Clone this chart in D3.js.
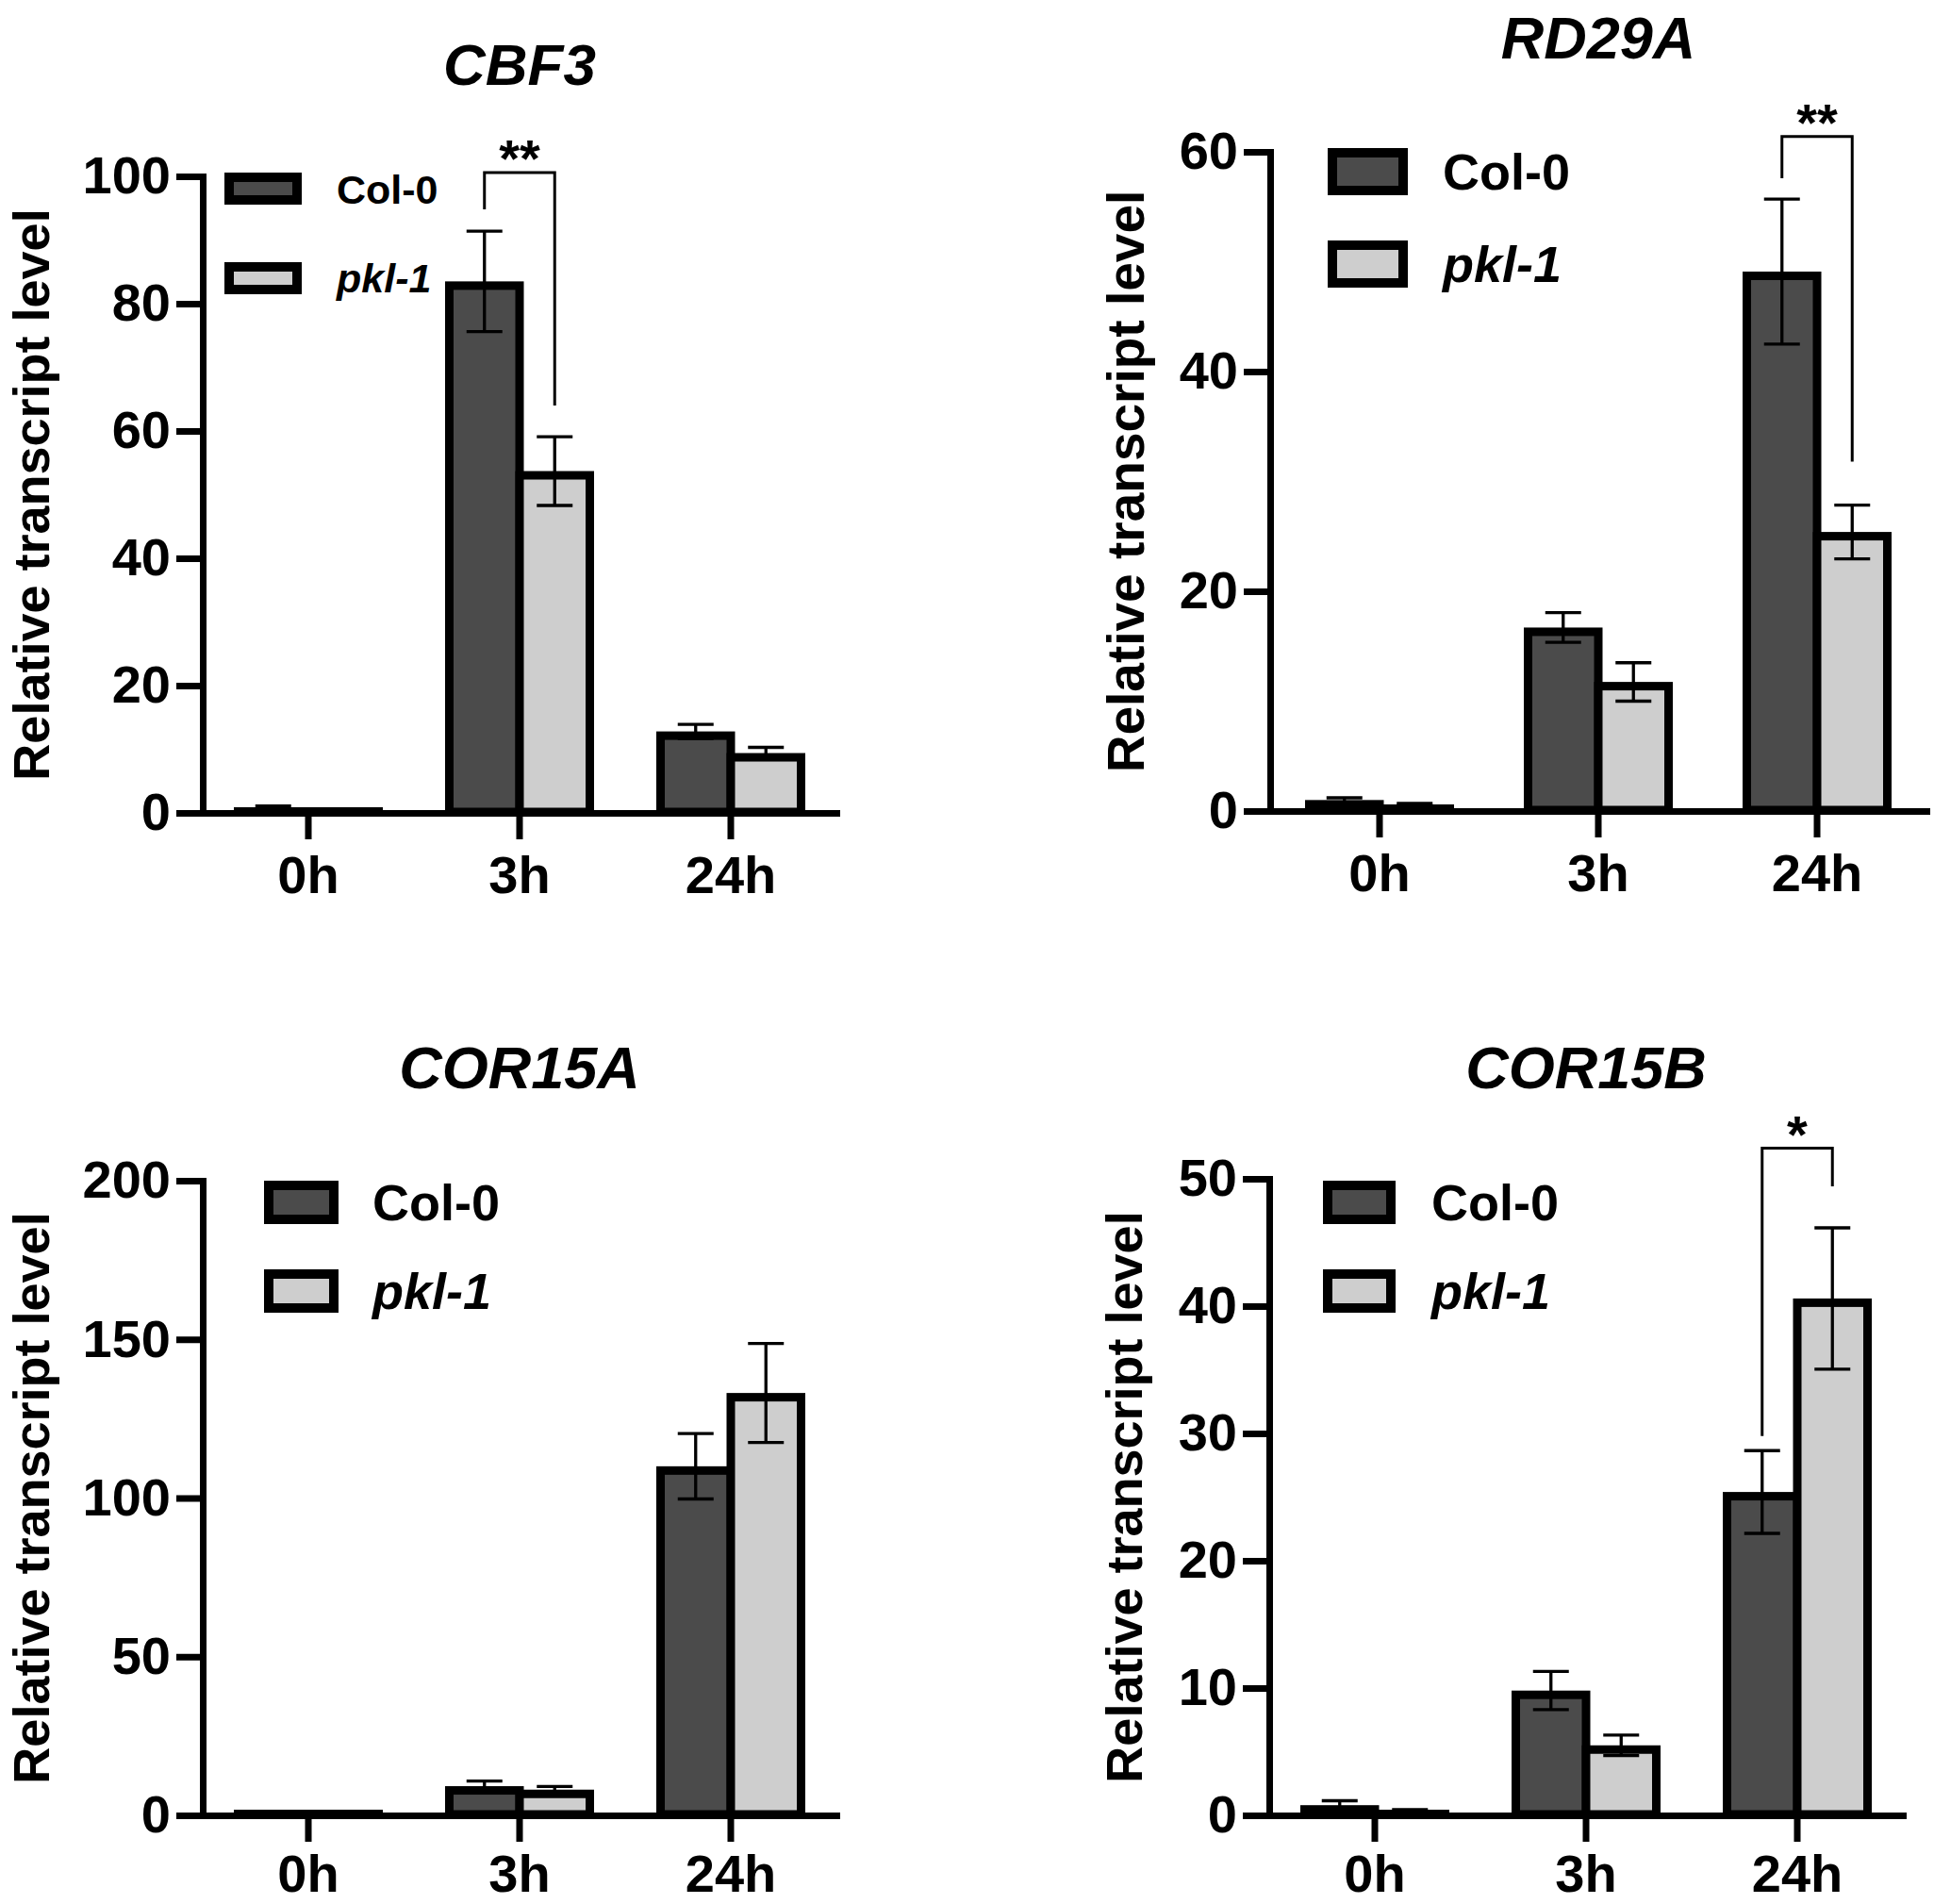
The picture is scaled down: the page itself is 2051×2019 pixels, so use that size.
<!DOCTYPE html>
<html><head><meta charset="utf-8">
<script src="https://cdn.jsdelivr.net/npm/d3@7"></script>
<style>body{margin:0;background:#fff} svg{display:block}</style>
</head><body>
<svg id="chart" width="2051" height="2019"></svg>
<script>
// ---------- DATA ----------
const categories = ["0h", "3h", "24h"];
const seriesNames = ["Col-0", "pkl-1"];
const genes = ["CBF3", "RD29A", "COR15A", "COR15B"];
const yAxisTitle = "Relative transcript level";

const cbf3Col = [0.85, 83.5, 12.8];
const cbf3ColErr = [0.25, 7.9, 1.1];
const cbf3Pkl = [0.5, 53.7, 9.4];
const cbf3PklErr = [0.15, 5.4, 0.9];

const rd29aCol = [1.0, 16.7, 49.1];
const rd29aColErr = [0.2, 1.35, 6.6];
const rd29aPkl = [0.6, 11.75, 25.4];
const rd29aPklErr = [0.1, 1.75, 2.45];

const cor15aCol = [1.0, 9.2, 110.0];
const cor15aColErr = [0.3, 1.6, 10.3];
const cor15aPkl = [0.5, 8.1, 133.1];
const cor15aPklErr = [0.1, 1.0, 15.6];

const cor15bCol = [0.8, 9.8, 25.4];
const cor15bColErr = [0.35, 1.5, 3.25];
const cor15bPkl = [0.35, 5.5, 40.6];
const cor15bPklErr = [0.1, 0.8, 5.55];

const yMax = [100, 60, 200, 50];
const yTickStep = [20, 20, 50, 10];

// significance brackets
const sigCategory = ["3h", "24h", null, "24h"];
const sigLabel = ["**", "**", null, "*"];
const sigTop = [100.6, 61.4, null, 52.4];
const sigLeftEnd = [94.8, 57.6, null, 29.8];
const sigRightEnd = [64.0, 31.8, null, 49.4];

const colValues = [cbf3Col, rd29aCol, cor15aCol, cor15bCol];
const colErrors = [cbf3ColErr, rd29aColErr, cor15aColErr, cor15bColErr];
const pklValues = [cbf3Pkl, rd29aPkl, cor15aPkl, cor15bPkl];
const pklErrors = [cbf3PklErr, rd29aPklErr, cor15aPklErr, cor15bPklErr];

// ---------- LAYOUT / STYLE ----------
const FONT = "'Liberation Sans', Arial, Helvetica, sans-serif";
const fills = ["#4b4b4b", "#cecece"];
const layout = [
  {axisX:215, band:224, top:187, base:862, xLabelY:85, titleX:551, titleY:90, titleSize:62, labelX:52, labelSize:54,
   leg:{boxX:238, boxW:82, boxH:34, rowTop:[183,278], textX:357, textBase:[216,310], size:43}},
  {axisX:1347, band:232, top:161, base:860, xLabelY:85, titleX:1695, titleY:62, titleSize:63, labelX:1213, labelSize:55,
   leg:{boxX:1408, boxW:85, boxH:50, rowTop:[157,255], textX:1530, textBase:[201,299], size:54}},
  {axisX:215, band:224, top:1252, base:1925, xLabelY:81, titleX:551, titleY:1154, titleSize:63, labelX:52, labelSize:54,
   leg:{boxX:280, boxW:79, boxH:46, rowTop:[1252,1346], textX:395, textBase:[1294,1388], size:54}},
  {axisX:1346, band:224, top:1250, base:1925, xLabelY:81, titleX:1682, titleY:1154, titleSize:63, labelX:1211, labelSize:54,
   leg:{boxX:1403, boxW:77, boxH:46, rowTop:[1252,1346], textX:1518, textBase:[1294,1388], size:54}}
];
const BAR_HALF = 79, BAR_SW = 9, AXIS_SW = 7, ERR_SW = 3.3, CAP_W = 38, TICK = 28, TICK_FONT = 56;

const svg = d3.select("#chart");
svg.append("rect").attr("width", 2051).attr("height", 2019).attr("fill", "#fff");

genes.forEach((gene, i) => {
  const L = layout[i];
  const g = svg.append("g");
  const x = d3.scaleBand().domain(categories).range([L.axisX, L.axisX + 3 * L.band]).padding(0);
  const y = d3.scaleLinear().domain([0, yMax[i]]).range([L.base, L.top]);
  const xs = d3.scaleBand().domain(seriesNames).range([-BAR_HALF, BAR_HALF]);

  const vals = [colValues[i], pklValues[i]];
  const errs = [colErrors[i], pklErrors[i]];

  const barRect = (s, c) => {
    const left = s === 0 ? c + xs(seriesNames[0]) + BAR_SW / 2 : c + xs(seriesNames[1]);
    const w = xs.bandwidth() - BAR_SW / 2;
    return {left, w, mid: left + w / 2};
  };

  // bars
  seriesNames.forEach((sn, s) => {
    categories.forEach((cat, k) => {
      const c = x(cat) + x.bandwidth() / 2;
      const r = barRect(s, c);
      const v = vals[s][k];
      const yt = y(v) + BAR_SW / 2;
      const h = Math.max(0.5, y(0) - 1 - yt);
      g.append("rect").attr("x", r.left).attr("y", Math.min(yt, y(0) - 1.5)).attr("width", r.w).attr("height", h)
        .attr("fill", fills[s]).attr("stroke", "#000").attr("stroke-width", BAR_SW);
    });
  });

  // error bars
  seriesNames.forEach((sn, s) => {
    categories.forEach((cat, k) => {
      const c = x(cat) + x.bandwidth() / 2;
      const m = barRect(s, c).mid;
      const v = vals[s][k], e = errs[s][k];
      const y1 = y(v + e), y2 = y(Math.max(0, v - e));
      const eg = g.append("g").attr("stroke", "#000").attr("stroke-width", ERR_SW).attr("fill", "none");
      eg.append("line").attr("x1", m).attr("x2", m).attr("y1", y1).attr("y2", y2);
      eg.append("line").attr("x1", m - CAP_W / 2).attr("x2", m + CAP_W / 2).attr("y1", y1).attr("y2", y1);
      eg.append("line").attr("x1", m - CAP_W / 2).attr("x2", m + CAP_W / 2).attr("y1", y2).attr("y2", y2);
    });
  });

  // axes
  const yAxis = d3.axisLeft(y).tickValues(d3.range(0, yMax[i] + yTickStep[i] / 2, yTickStep[i]))
    .tickSize(TICK).tickPadding(6).tickSizeOuter(0).tickFormat(d3.format("d"));
  const ya = g.append("g").attr("transform", `translate(${L.axisX},0)`).call(yAxis);
  const xAxis = d3.axisBottom(x).tickSize(TICK).tickSizeOuter(0);
  const xa = g.append("g").attr("transform", `translate(0,${L.base})`).call(xAxis);
  [ya, xa].forEach(a => {
    a.select(".domain").attr("stroke", "#000").attr("stroke-width", AXIS_SW).attr("stroke-linecap", "square");
    a.selectAll(".tick line").attr("stroke", "#000").attr("stroke-width", AXIS_SW);
    a.selectAll(".tick text").attr("fill", "#000").attr("font-family", FONT).attr("font-weight", "bold")
      .attr("font-size", TICK_FONT);
  });
  ya.attr("font-size", null).attr("font-family", null);
  xa.attr("font-size", null).attr("font-family", null);
  xa.selectAll(".tick text").attr("y", L.xLabelY).attr("dy", 0);

  // y-axis title
  g.append("text").attr("transform", `translate(${L.labelX},${(L.top + L.base) / 2}) rotate(-90)`)
    .attr("text-anchor", "middle").attr("font-family", FONT).attr("font-weight", "bold")
    .attr("font-size", L.labelSize).attr("fill", "#000").text(yAxisTitle);

  // title
  g.append("text").attr("x", L.titleX).attr("y", L.titleY).attr("text-anchor", "middle")
    .attr("font-family", FONT).attr("font-weight", "bold").attr("font-style", "italic")
    .attr("font-size", L.titleSize).attr("fill", "#000").text(gene);

  // legend
  seriesNames.forEach((sn, s) => {
    const lg = L.leg;
    g.append("rect").attr("x", lg.boxX + 5).attr("y", lg.rowTop[s] + 5)
      .attr("width", lg.boxW - 10).attr("height", lg.boxH - 10)
      .attr("fill", fills[s]).attr("stroke", "#000").attr("stroke-width", 10);
    g.append("text").attr("x", lg.textX).attr("y", lg.textBase[s])
      .attr("font-family", FONT).attr("font-weight", "bold").attr("font-style", s === 1 ? "italic" : "normal")
      .attr("font-size", lg.size).attr("fill", "#000").text(sn);
  });

  // significance bracket
  if (sigCategory[i]) {
    const c = x(sigCategory[i]) + x.bandwidth() / 2;
    const xl = barRect(0, c).mid, xr = barRect(1, c).mid;
    const p = d3.path();
    p.moveTo(xl, y(sigLeftEnd[i]));
    p.lineTo(xl, y(sigTop[i]));
    p.lineTo(xr, y(sigTop[i]));
    p.lineTo(xr, y(sigRightEnd[i]));
    g.append("path").attr("d", p.toString()).attr("fill", "none").attr("stroke", "#000").attr("stroke-width", 3);
    g.append("text").attr("x", (xl + xr) / 2).attr("y", y(sigTop[i]) + 4).attr("text-anchor", "middle")
      .attr("font-family", FONT).attr("font-weight", "bold").attr("font-size", 56).attr("fill", "#000")
      .text(sigLabel[i]);
  }
});
</script>
</body></html>
